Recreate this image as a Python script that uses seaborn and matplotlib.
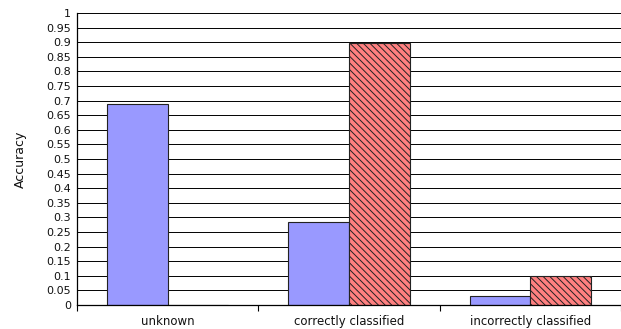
import matplotlib
matplotlib.use("Agg")
import matplotlib.pyplot as plt
import seaborn as sns
import pandas as pd
import numpy as np

categories = ["unknown", "correctly classified", "incorrectly classified"]
series_names = ["A", "B"]
series_a = [0.687, 0.283, 0.030]
series_b = [0.0, 0.898, 0.099]
y_ticks = [round(v, 2) for v in np.arange(0, 1.0001, 0.05)]

df = pd.DataFrame({
    "category": categories * 2,
    "series": [series_names[0]] * 3 + [series_names[1]] * 3,
    "Accuracy": series_a + series_b,
})

sns.set_theme(style="white")
plt.rcParams["font.family"] = ["DejaVu Sans"]
plt.rcParams["hatch.linewidth"] = 0.7
plt.rcParams["hatch.color"] = "black"

fig = plt.figure(figsize=(6.21, 3.29), dpi=100)
ax = fig.add_axes([0.124, 0.073, 0.876, 0.8875])

sns.barplot(data=df, x="category", y="Accuracy", hue="series",
            order=categories, hue_order=series_names,
            palette=["#9999FF", "#FF8080"], width=0.67,
            edgecolor="#222222", linewidth=0.8, saturation=1,
            legend=False, ax=ax)

for patch in ax.containers[1]:
    patch.set_hatch("\\\\\\\\\\")

text_color = "#111111"
ax.set_ylim(0, 1)
ax.set_xlim(-0.5, 2.5)
ax.set_yticks(y_ticks)
ax.set_yticklabels([f"{v:g}" for v in y_ticks], fontsize=8, color=text_color)
for v in y_ticks[1:]:
    ax.axhline(v, color="black", linewidth=0.7, zorder=0)

ax.set_xticks(range(len(categories)))
ax.set_xticklabels(categories, fontsize=8.5, color=text_color)
ax.tick_params(axis="x", which="major", length=0, pad=7)
ax.set_xticks([-0.5, 0.5, 1.5, 2.5], minor=True)
ax.tick_params(axis="x", which="minor", length=4, width=0.8, color="black",
               direction="out", bottom=True)
ax.tick_params(axis="y", length=0, pad=4.5)

ax.set_xlabel("")
ax.set_ylabel("Accuracy", fontsize=9, labelpad=14, color=text_color)

for side in ["top", "right"]:
    ax.spines[side].set_visible(False)
for side in ["left", "bottom"]:
    ax.spines[side].set_color("black")
    ax.spines[side].set_linewidth(0.9)

fig.savefig("out.png", dpi=100)
